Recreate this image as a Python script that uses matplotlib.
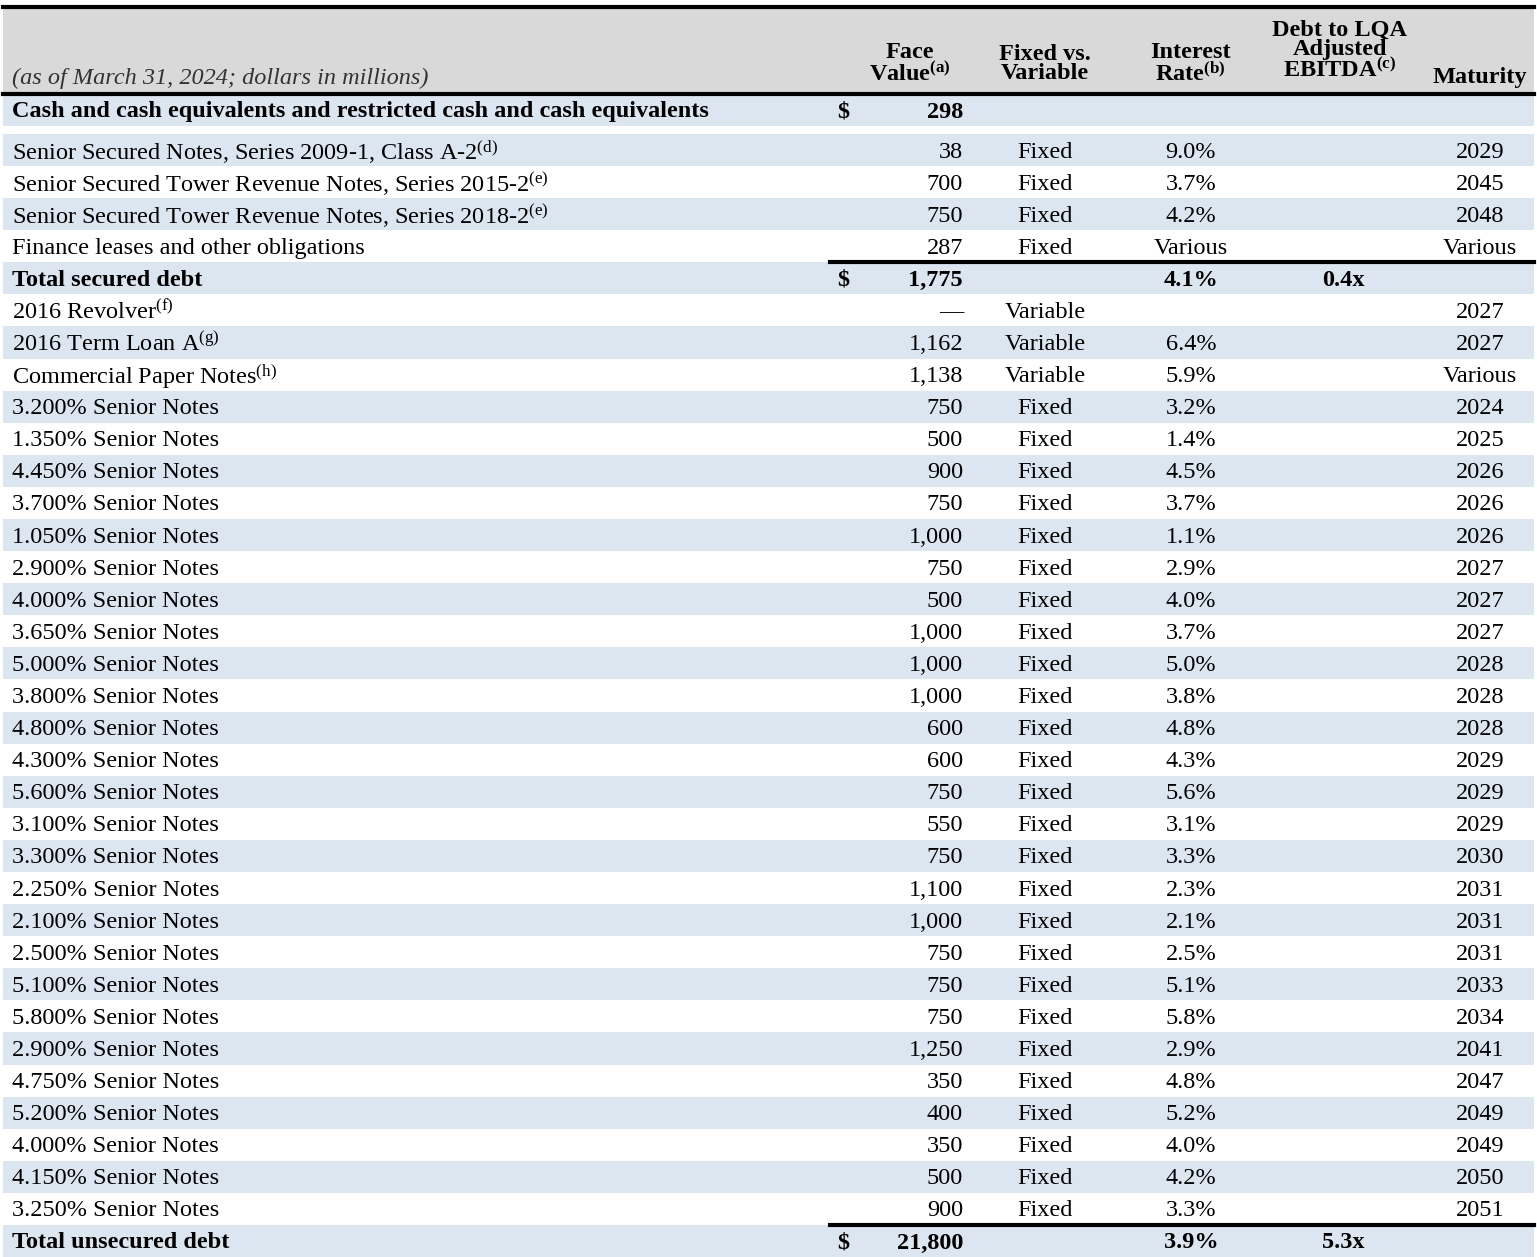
import matplotlib
matplotlib.use("Agg")
import matplotlib.pyplot as plt
import numpy as np

plt.rcParams["font.family"] = ["Liberation Serif", "DejaVu Serif"]
plt.rcParams["mathtext.fontset"] = "custom"
plt.rcParams["mathtext.rm"] = "Liberation Serif"
plt.rcParams["mathtext.bf"] = "Liberation Serif:bold"
plt.rcParams["mathtext.it"] = "Liberation Serif:italic"

# table data
labels = [
    r"Senior Secured Notes, Series 2009-1, Class A-2$^{\mathrm{(d)}}$",
    r"Senior Secured Tower Revenue Notes, Series 2015-2$^{\mathrm{(e)}}$",
    r"Senior Secured Tower Revenue Notes, Series 2018-2$^{\mathrm{(e)}}$",
    "Finance leases and other obligations",
    "Total secured debt",
    r"2016 Revolver$^{\mathrm{(f)}}$",
    r"2016 Term Loan A$^{\mathrm{(g)}}$",
    r"Commercial Paper Notes$^{\mathrm{(h)}}$",
    "3.200% Senior Notes", "1.350% Senior Notes", "4.450% Senior Notes",
    "3.700% Senior Notes", "1.050% Senior Notes", "2.900% Senior Notes",
    "4.000% Senior Notes", "3.650% Senior Notes", "5.000% Senior Notes",
    "3.800% Senior Notes", "4.800% Senior Notes", "4.300% Senior Notes",
    "5.600% Senior Notes", "3.100% Senior Notes", "3.300% Senior Notes",
    "2.250% Senior Notes", "2.100% Senior Notes", "2.500% Senior Notes",
    "5.100% Senior Notes", "5.800% Senior Notes", "2.900% Senior Notes",
    "4.750% Senior Notes", "5.200% Senior Notes", "4.000% Senior Notes",
    "4.150% Senior Notes", "3.250% Senior Notes",
    "Total unsecured debt",
]
face_values = ["38", "700", "750", "287", "1,775", "\u2014", "1,162", "1,138",
               "750", "500", "900", "750", "1,000", "750", "500", "1,000",
               "1,000", "1,000", "600", "600", "750", "550", "750", "1,100",
               "1,000", "750", "750", "750", "1,250", "350", "400", "350",
               "500", "900", "21,800"]
fixed_var = ["Fixed"] * 4 + [""] + ["Variable"] * 3 + ["Fixed"] * 26 + [""]
rates = ["9.0%", "3.7%", "4.2%", "Various", "4.1%", "", "6.4%", "5.9%",
         "3.2%", "1.4%", "4.5%", "3.7%", "1.1%", "2.9%", "4.0%", "3.7%",
         "5.0%", "3.8%", "4.8%", "4.3%", "5.6%", "3.1%", "3.3%", "2.3%",
         "2.1%", "2.5%", "5.1%", "5.8%", "2.9%", "4.8%", "5.2%", "4.0%",
         "4.2%", "3.3%", "3.9%"]
leverage = [""] * 4 + ["0.4x"] + [""] * 29 + ["5.3x"]
maturity = ["2029", "2045", "2048", "Various", "", "2027", "2027", "Various",
            "2024", "2025", "2026", "2026", "2026", "2027", "2027", "2027",
            "2028", "2028", "2028", "2029", "2029", "2029", "2030", "2031",
            "2031", "2031", "2033", "2034", "2041", "2047", "2049", "2049",
            "2050", "2051", ""]
total_rows = [4, 34]

W, H = 1537, 1257
fig = plt.figure(figsize=(W / 100, H / 100), dpi=100)
ax = fig.add_axes([0, 0, 1, 1])
ax.set_xlim(0, W)
ax.set_ylim(H, 0)
ax.axis("off")

blue = "#dce6f1"
grey = "#d9d9d9"
fs = 17.5
dy = 2  # small baseline nudge

# header
ax.add_patch(plt.Rectangle((3, 8), W - 6, 86, color=grey, lw=0))
ax.plot([3, W - 3], [7, 7], color="black", lw=3)
ax.plot([3, W - 3], [94, 94], color="black", lw=3)
ax.text(12, 78, "(as of March 31, 2024; dollars in millions)", fontsize=fs,
        style="italic", va="center", color="#333333")
hdr = dict(fontsize=fs, fontweight="bold", ha="center", va="center", linespacing=0.92)
ax.text(910, 64, "Face\n" + r"Value$^{\mathbf{(a)}}$", **hdr)
ax.text(1045, 64, "Fixed vs.\nVariable", **hdr)
ax.text(1190, 64, "Interest\n" + r"Rate$^{\mathbf{(b)}}$", **hdr)
ax.text(1340, 51, "Debt to LQA\nAdjusted\n" + r"EBITDA$^{\mathbf{(c)}}$", **hdr)
ax.text(1480, 78, "Maturity", **hdr)

# cash row
ax.add_patch(plt.Rectangle((3, 95), W - 6, 31, color=blue, lw=0))
ax.text(12, 110 + dy, "Cash and cash equivalents and restricted cash and cash equivalents",
        fontsize=fs, fontweight="bold", va="center")
ax.text(837, 110 + dy, "$", fontsize=fs, fontweight="bold", va="center")
ax.text(963, 110 + dy, "298", fontsize=fs, fontweight="bold", va="center", ha="right")

ys = np.linspace(150, 1241, len(labels))
step = ys[1] - ys[0]
for i, y in enumerate(ys):
    bold = i in total_rows
    if i % 2 == 0 or i == len(labels) - 1:
        ax.add_patch(plt.Rectangle((3, y - step / 2), W - 6, step, color=blue, lw=0))
    if bold:
        ax.plot([830, W - 3], [y - step / 2, y - step / 2], color="black", lw=3)
        ax.text(837, y + dy, "$", fontsize=fs, fontweight="bold", va="center")
    fw = "bold" if bold else "normal"
    kw = dict(fontsize=fs, fontweight=fw, va="center")
    ty = y + dy
    ax.text(12, ty, labels[i], **kw)
    ax.text(963, ty, face_values[i], ha="right", **kw)
    ax.text(1045, ty, fixed_var[i], ha="center", **kw)
    ax.text(1191, ty, rates[i], ha="center", **kw)
    ax.text(1343, ty, leverage[i], ha="center", **kw)
    ax.text(1480, ty, maturity[i], ha="center", **kw)

fig.savefig("out.png", dpi=100)
